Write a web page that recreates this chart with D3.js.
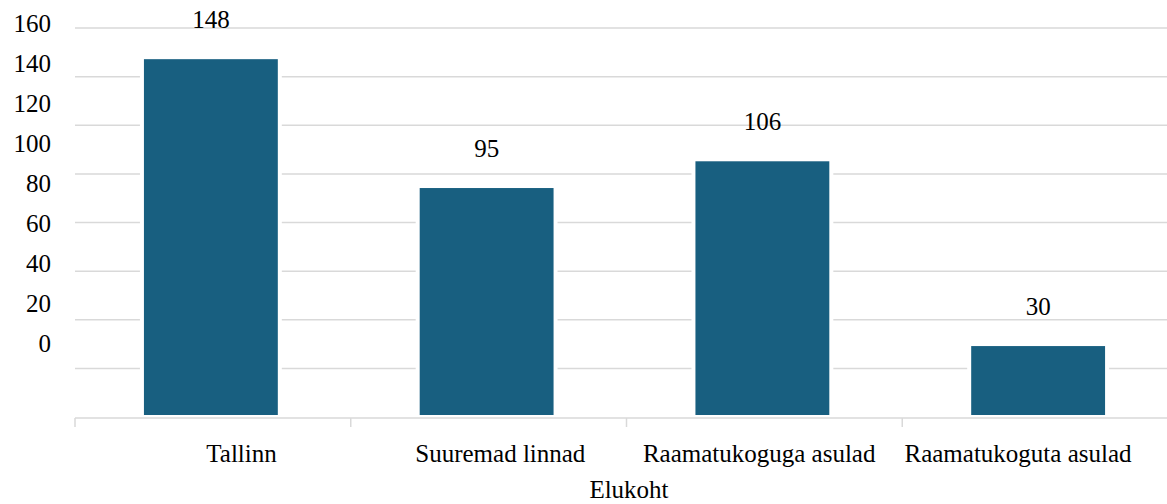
<!DOCTYPE html>
<html>
<head>
<meta charset="utf-8">
<script src="https://cdn.jsdelivr.net/npm/d3@7"></script>
<style>
  body { margin: 0; background: #fff; }
</style>
</head>
<body>
<script>
let w = 1167;
let h = 504;
let font = "'Liberation Serif', 'DejaVu Serif', 'Times New Roman', serif";

const categories = ["Tallinn", "Suuremad linnad", "Raamatukoguga asulad", "Raamatukoguta asulad"];
const values = [148, 95, 106, 30];
const yTicks = [0, 20, 40, 60, 80, 100, 120, 140, 160];
const axisTitle = "Elukoht";

//create our svg
let svg = d3.select("body").append("svg").attr("width", w).attr("height", h)
  .style("font-family", font);

//scales - the plot runs a bit past the right edge
let x = d3.scaleBand().domain(categories).range([73, 1176]).paddingInner(0.5).paddingOuter(0.25);
let y = d3.scaleLinear().domain([0, 160]).range([417, 28]);
let left = 75;

//the labels sit on their own (squeezed) positions
let yLab = d3.scaleLinear().domain([0, 160]).range([352, 32]);
let xLab = d3.scalePoint().domain(categories).range([241.5, 1018]);

//gridlines
svg.selectAll("line.grid")
  .data(yTicks.filter(function (d) { return d > 0; }))
  .enter()
  .append("line")
  .attr("class", "grid")
  .attr("x1", left)
  .attr("x2", w)
  .attr("y1", function (d) { return y(d); })
  .attr("y2", function (d) { return y(d); })
  .attr("stroke", "#d9d9d9")
  .attr("stroke-width", 1.5);

//bars
svg.selectAll("rect")
  .data(values)
  .enter()
  .append("rect")
  .attr("x", function (d, i) { return x(categories[i]); })
  .attr("y", function (d) { return y(d); })
  .attr("width", x.bandwidth())
  .attr("height", function (d) { return y(0) - y(d); })
  .attr("fill", "#185f80")
  .attr("stroke", "#fff")
  .attr("stroke-width", 4);

//x axis line + ticks on the category borders
let base = y(0) + 1;
svg.append("line")
  .attr("x1", left).attr("x2", w)
  .attr("y1", base).attr("y2", base)
  .attr("stroke", "#d9d9d9")
  .attr("stroke-width", 1.5);

svg.selectAll("line.tick")
  .data(d3.range(categories.length))
  .enter()
  .append("line")
  .attr("class", "tick")
  .attr("x1", function (i) { return left + i * x.step(); })
  .attr("x2", function (i) { return left + i * x.step(); })
  .attr("y1", base)
  .attr("y2", base + 9)
  .attr("stroke", "#d9d9d9")
  .attr("stroke-width", 1.5);

//value labels
svg.selectAll("text.val")
  .data(values)
  .enter()
  .append("text")
  .attr("class", "val")
  .text(function (d) { return d; })
  .attr("x", function (d, i) { return x(categories[i]) + x.bandwidth() / 2; })
  .attr("y", function (d) { return y(d) - 29; })
  .attr("font-family", font)
  .attr("font-size", 25)
  .attr("fill", "#000")
  .attr("text-anchor", "middle");

//y tick labels
svg.selectAll("text.ylab")
  .data(yTicks)
  .enter()
  .append("text")
  .attr("class", "ylab")
  .text(function (d) { return d; })
  .attr("x", 51)
  .attr("y", function (d) { return yLab(d); })
  .attr("font-family", font)
  .attr("font-size", 25)
  .attr("fill", "#000")
  .attr("text-anchor", "end");

//category labels
svg.selectAll("text.xlab")
  .data(categories)
  .enter()
  .append("text")
  .attr("class", "xlab")
  .text(function (d) { return d; })
  .attr("x", function (d) { return xLab(d); })
  .attr("y", 461.5)
  .attr("font-family", font)
  .attr("font-size", 25)
  .attr("fill", "#000")
  .attr("text-anchor", "middle");

//axis title
svg.append("text")
  .text(axisTitle)
  .attr("x", 629)
  .attr("y", 498)
  .attr("font-family", font)
  .attr("font-size", 25)
  .attr("fill", "#000")
  .attr("text-anchor", "middle");
</script>
</body>
</html>
